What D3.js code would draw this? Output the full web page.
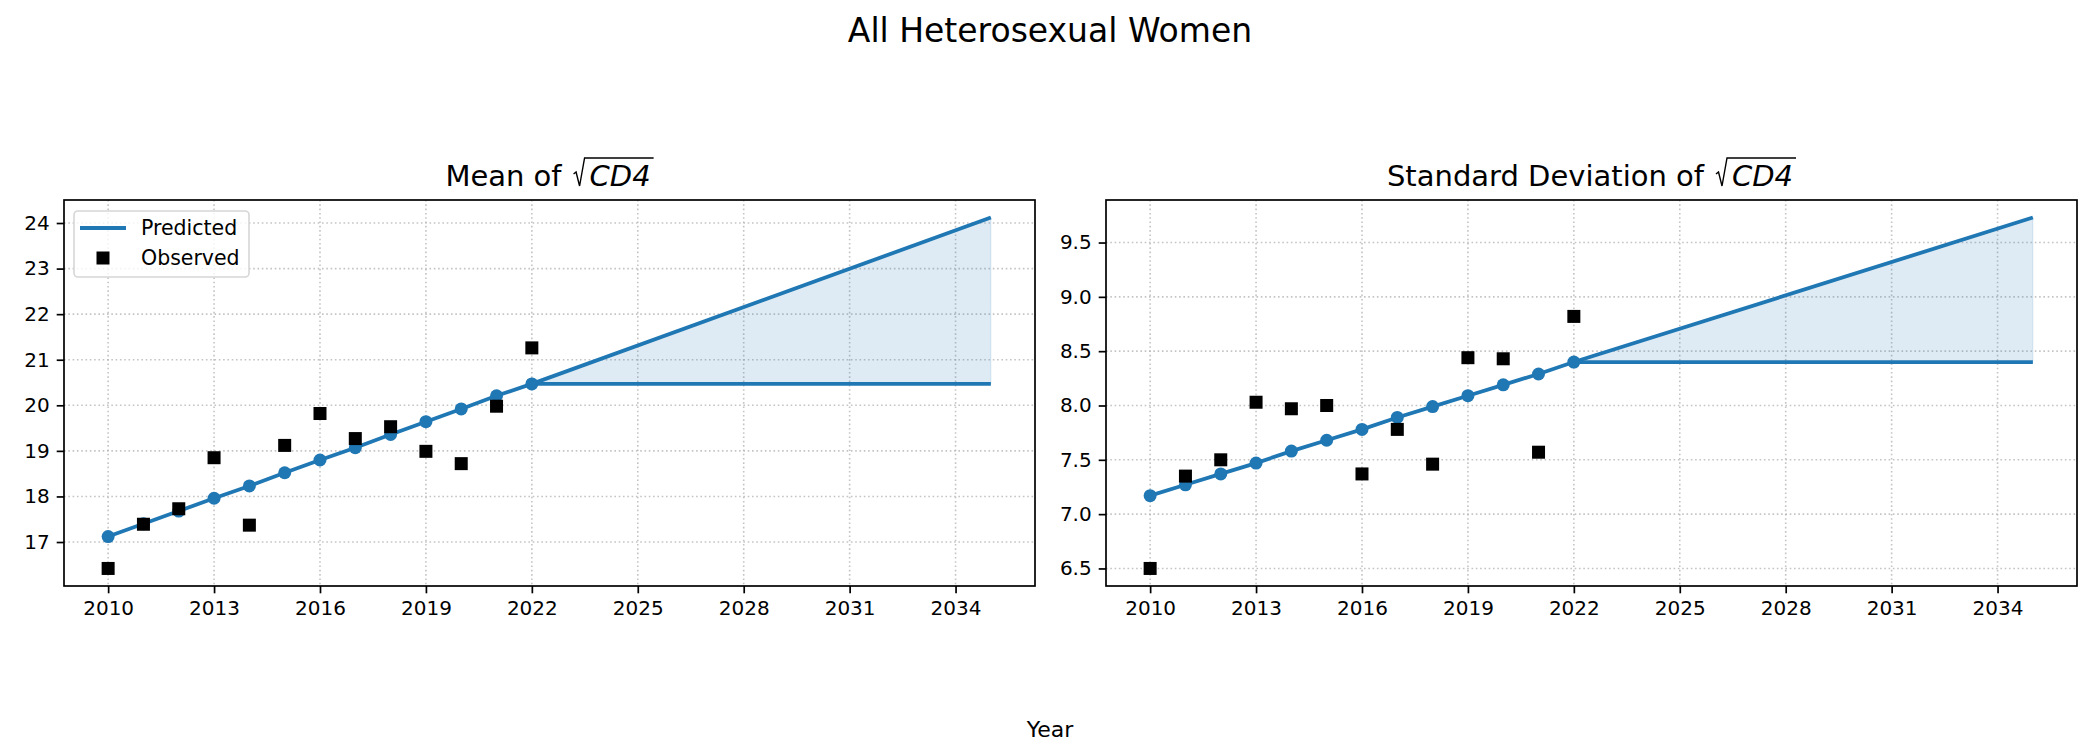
<!DOCTYPE html>
<html lang="en">
<head>
<meta charset="UTF-8">
<title>All Heterosexual Women</title>
<script src="https://d3js.org/d3.v7.min.js"></script>
<style>
  body { margin: 0; background: #fff; }
  svg text { font-family: "DejaVu Sans", sans-serif; fill: #000; }
</style>
</head>
<body>
<script>
// years with fitted values
const years = [2010, 2011, 2012, 2013, 2014, 2015, 2016, 2017, 2018, 2019, 2020, 2021, 2022];
const projYears = [2022, 2035];

// mean of sqrt(CD4)
const meanPred = [17.12, 17.40, 17.68, 17.96, 18.23, 18.52, 18.80, 19.07, 19.36, 19.64, 19.92, 20.21, 20.47];
const meanObs = [16.42, 17.39, 17.73, 18.85, 17.37, 19.12, 19.82, 19.27, 19.53, 18.99, 18.72, 19.98, 21.26];
const meanUpper = [20.47, 24.12];
const meanFlat = [20.47, 20.47];

// standard deviation of sqrt(CD4)
const sdPred = [7.17, 7.27, 7.37, 7.47, 7.58, 7.68, 7.78, 7.89, 7.99, 8.09, 8.19, 8.29, 8.40];
const sdObs = [6.50, 7.35, 7.50, 8.03, 7.97, 8.00, 7.37, 7.78, 7.46, 8.44, 8.43, 7.57, 8.82];
const sdUpper = [8.40, 9.73];
const sdFlat = [8.40, 8.40];

// tick labels
const xTicks = [2010, 2013, 2016, 2019, 2022, 2025, 2028, 2031, 2034];
const meanTicks = [17, 18, 19, 20, 21, 22, 23, 24];
const sdTicks = [6.5, 7.0, 7.5, 8.0, 8.5, 9.0, 9.5];

const W = 2100, H = 750;
const blue = "#1f77b4";
const plotTop = 200, plotBottom = 586;

const svg = d3.select("body").append("svg")
    .attr("width", W)
    .attr("height", H);

svg.append("text")
    .attr("x", 1050).attr("y", 42)
    .attr("text-anchor", "middle")
    .style("font-size", "33px")
    .text("All Heterosexual Women");

svg.append("text")
    .attr("x", 1050).attr("y", 737)
    .attr("text-anchor", "middle")
    .style("font-size", "22px")
    .text("Year");

// matplotlib style 5% padding
function padded(vals) {
    const lo = d3.min(vals), hi = d3.max(vals);
    const p = (hi - lo) * 0.05;
    return [lo - p, hi + p];
}

function drawPanel(cfg) {
    const g = svg.append("g");
    const x = d3.scaleLinear()
        .domain(padded(years.concat(projYears)))
        .range([cfg.left, cfg.right]);
    const y = d3.scaleLinear()
        .domain(padded(cfg.pred.concat(cfg.obs, cfg.upper)))
        .range([plotBottom, plotTop]);

    // grid
    const grid = g.append("g")
        .attr("stroke", "#b0b0b0")
        .attr("stroke-opacity", 0.75)
        .attr("stroke-width", 1.6)
        .attr("stroke-dasharray", "1.6,2.7");
    grid.selectAll(".gx").data(xTicks).join("line")
        .attr("x1", d => x(d)).attr("x2", d => x(d))
        .attr("y1", plotTop).attr("y2", plotBottom);
    grid.selectAll(".gy").data(cfg.yTicks).join("line")
        .attr("x1", cfg.left).attr("x2", cfg.right)
        .attr("y1", d => y(d)).attr("y2", d => y(d));

    // shaded projection band
    const band = projYears.map((yr, i) => ({ yr: yr, lo: cfg.flat[i], hi: cfg.upper[i] }));
    g.append("path")
        .datum(band)
        .attr("fill", blue)
        .attr("fill-opacity", 0.15)
        .attr("stroke", blue)
        .attr("stroke-opacity", 0.15)
        .attr("stroke-width", 1)
        .attr("d", d3.area().x(d => x(d.yr)).y0(d => y(d.lo)).y1(d => y(d.hi)));

    const line = d3.line().x(d => x(d[0])).y(d => y(d[1]));

    g.append("path")
        .datum(years.map((yr, i) => [yr, cfg.pred[i]]))
        .attr("fill", "none").attr("stroke", blue).attr("stroke-width", 3.8)
        .attr("d", line);
    g.append("path")
        .datum(projYears.map((yr, i) => [yr, cfg.upper[i]]))
        .attr("fill", "none").attr("stroke", blue).attr("stroke-width", 3.8)
        .attr("d", line);
    g.append("path")
        .datum(projYears.map((yr, i) => [yr, cfg.flat[i]]))
        .attr("fill", "none").attr("stroke", blue).attr("stroke-width", 3.8)
        .attr("d", line);

    g.selectAll(".pt").data(years).join("circle")
        .attr("cx", d => x(d))
        .attr("cy", (d, i) => y(cfg.pred[i]))
        .attr("r", 6.5)
        .attr("fill", blue);

    g.selectAll(".obs").data(years).join("rect")
        .attr("x", d => x(d) - 6.5)
        .attr("y", (d, i) => y(cfg.obs[i]) - 6.5)
        .attr("width", 13).attr("height", 13)
        .attr("fill", "#000");

    // axes
    const xAxis = g.append("g")
        .attr("transform", `translate(0,${plotBottom})`)
        .call(d3.axisBottom(x).tickValues(xTicks).tickFormat(d3.format("d")).tickSize(7.3).tickPadding(7));
    const yAxis = g.append("g")
        .attr("transform", `translate(${cfg.left},0)`)
        .call(d3.axisLeft(y).tickValues(cfg.yTicks).tickFormat(cfg.fmt).tickSize(7.3).tickPadding(7));
    [xAxis, yAxis].forEach(a => {
        a.select(".domain").remove();
        a.selectAll("line").attr("stroke", "#000").attr("stroke-width", 1.7);
        a.selectAll("text").style("font-size", "20px").attr("fill", "#000")
            .style("font-family", "DejaVu Sans");
    });

    g.append("rect")
        .attr("x", cfg.left).attr("y", plotTop)
        .attr("width", cfg.right - cfg.left).attr("height", plotBottom - plotTop)
        .attr("fill", "none").attr("stroke", "#000").attr("stroke-width", 1.7);

    // title with sqrt(CD4)
    const t = g.append("g");
    const base = 186;
    const t1 = t.append("text").attr("x", 0).attr("y", base)
        .style("font-size", "29px").text(cfg.title);
    const w1 = t1.node().getComputedTextLength();
    const rx = w1 + 12;
    const t2 = t.append("text").attr("x", rx + 16).attr("y", base)
        .style("font-size", "29px").style("font-style", "italic").text("CD4");
    const w2 = t2.node().getComputedTextLength();
    const endX = rx + 16 + w2 + 3;
    t.append("path")
        .attr("fill", "none").attr("stroke", "#000").attr("stroke-width", 1.4)
        .attr("d", `M${rx},${base - 12} L${rx + 2.5},${base - 14} L${rx + 6},${base} L${rx + 11},${base - 28} L${endX},${base - 28}`);
    const mid = (cfg.left + cfg.right) / 2;
    t.attr("transform", `translate(${mid - endX / 2},0)`);
}

drawPanel({
    left: 64, right: 1035,
    pred: meanPred, obs: meanObs, upper: meanUpper, flat: meanFlat,
    yTicks: meanTicks, fmt: d3.format("d"), title: "Mean of"
});
drawPanel({
    left: 1106, right: 2077,
    pred: sdPred, obs: sdObs, upper: sdUpper, flat: sdFlat,
    yTicks: sdTicks, fmt: d3.format(".1f"), title: "Standard Deviation of"
});

// legend (left panel only)
const leg = svg.append("g");
leg.append("rect")
    .attr("x", 74).attr("y", 211).attr("width", 175).attr("height", 66)
    .attr("rx", 4)
    .attr("fill", "#fff").attr("fill-opacity", 0.8)
    .attr("stroke", "#d6d6d6").attr("stroke-width", 1.6);
leg.append("line")
    .attr("x1", 80).attr("x2", 126).attr("y1", 228).attr("y2", 228)
    .attr("stroke", blue).attr("stroke-width", 3.8);
leg.append("rect")
    .attr("x", 96.5).attr("y", 251.5).attr("width", 13).attr("height", 13)
    .attr("fill", "#000");
leg.append("text").attr("x", 141).attr("y", 235).style("font-size", "20.5px").text("Predicted");
leg.append("text").attr("x", 141).attr("y", 265).style("font-size", "20.5px").text("Observed");
</script>
</body>
</html>
